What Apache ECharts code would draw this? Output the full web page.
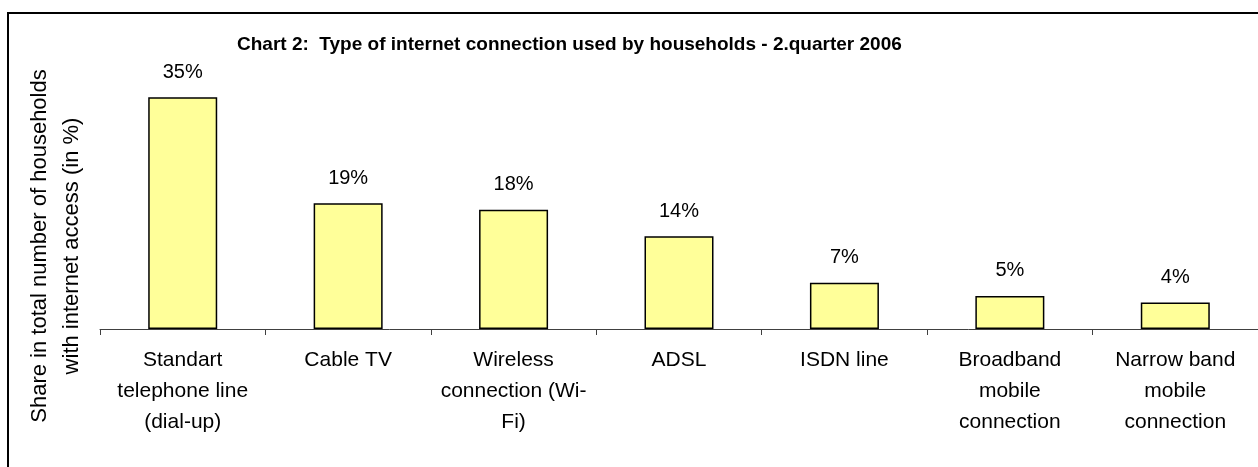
<!DOCTYPE html>
<html>
<head>
<meta charset="utf-8">
<script src="https://cdn.jsdelivr.net/npm/echarts@6/dist/echarts.min.js"></script>
<style>html,body{margin:0;padding:0;background:#fff;}#c{width:1258px;height:467px;}</style>
</head>
<body>
<div id="c"></div>
<script>
var categories = ['Standart\ntelephone line\n(dial-up)', 'Cable TV', 'Wireless\nconnection (Wi-\nFi)', 'ADSL', 'ISDN line', 'Broadband\nmobile\nconnection', 'Narrow band\nmobile\nconnection'];
var shares = [35, 19, 18, 14, 7, 5, 4];
var titleText = 'Chart 2:  Type of internet connection used by households - 2.quarter 2006';
var yName = 'Share in total number of households\nwith internet access (in %)';

var chart = echarts.init(document.getElementById('c'), null, {renderer: 'canvas'});
var FONT = 'Liberation Sans, Arial, sans-serif';
chart.setOption({
  animation: false,
  backgroundColor: '#fff',
  title: {
    text: titleText,
    left: 237, top: 35, padding: 0,
    textStyle: {fontFamily: FONT, fontSize: 19, fontWeight: 'bold', color: '#000'}
  },
  graphic: [
    {type: 'rect', shape: {x: 8, y: 13, width: 1300, height: 500}, style: {fill: 'none', stroke: '#000', lineWidth: 2}, silent: true},
    {type: 'text', x: 56, y: 246, rotation: Math.PI / 2,
     style: {text: yName, font: '22px ' + FONT, fill: '#000', align: 'center', verticalAlign: 'middle', lineHeight: 32}}
  ],
  grid: {left: 100, top: 64, width: 1160, height: 265, containLabel: false},
  xAxis: {
    type: 'category', data: categories,
    axisLine: {show: true, lineStyle: {color: '#404040', width: 1}},
    axisTick: {show: true, length: 6, lineStyle: {color: '#404040'}},
    axisLabel: {interval: 0, margin: 16, fontFamily: FONT, fontSize: 21, color: '#000', lineHeight: 31, align: 'center'}
  },
  yAxis: {
    type: 'value', min: 0, max: 40,
    axisLine: {show: false}, axisTick: {show: false}, axisLabel: {show: false}, splitLine: {show: false}
  },
  series: [{
    type: 'bar', data: shares, barWidth: 69,
    itemStyle: {color: '#FFFF99', borderColor: '#000', borderWidth: 1.5},
    label: {show: true, position: 'top', distance: 15, formatter: '{c}%', fontFamily: FONT, fontSize: 20, color: '#000'}
  }]
});
</script>
</body>
</html>
